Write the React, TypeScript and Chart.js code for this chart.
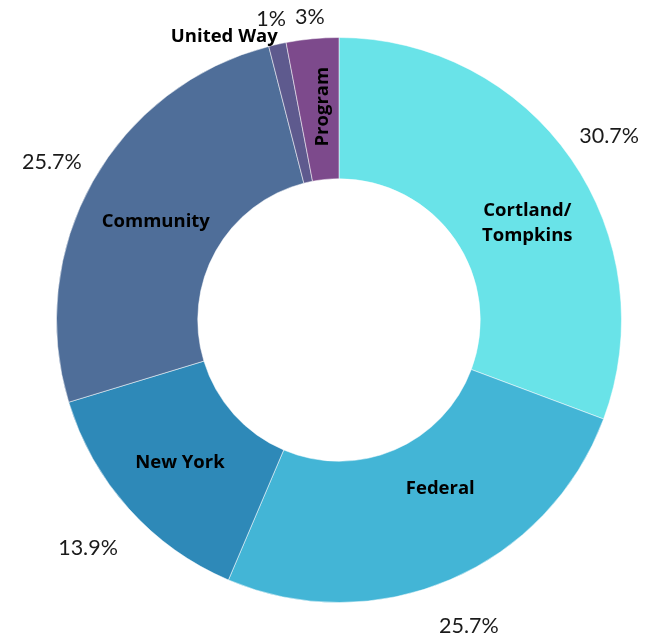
import React, { useEffect, useRef } from "react";
import { Chart, registerables } from "chart.js";

Chart.register(...registerables);

const categories = ["Cortland/\nTompkins", "Federal", "New York", "Community", "United Way", "Program"];
const values = [30.7, 25.7, 13.9, 25.7, 1, 3];
const percentLabels = ["30.7%", "25.7%", "13.9%", "25.7%", "1%", "3%"];
const colors = ["#69E3E8", "#43B5D6", "#2E89B8", "#4F6E99", "#5E5A8E", "#7D4A8C"];

const labelPlugin = {
  id: "sliceLabels",
  afterDatasetsDraw(chart: any) {
    const ctx = chart.ctx;
    const meta = chart.getDatasetMeta(0);
    meta.data.forEach((arc: any, i: number) => {
      const { x, y, startAngle, endAngle, innerRadius, outerRadius } = arc.getProps(
        ["x", "y", "startAngle", "endAngle", "innerRadius", "outerRadius"],
        true
      );
      const mid = (startAngle + endAngle) / 2;
      const cos = Math.cos(mid);
      const sin = Math.sin(mid);
      // percentage outside
      ctx.save();
      ctx.font = "400 21.5px Lato, 'Open Sans', sans-serif";
      ctx.fillStyle = "#1a1a1a";
      ctx.textAlign = "center";
      ctx.textBaseline = "middle";
      const pt = percentLabels[i];
      const w = ctx.measureText(pt).width;
      const hw = w / 2;
      const hh = 10;
      const proj = Math.abs(hw * cos) + Math.abs(hh * sin);
      const r = outerRadius + 16 + proj + (sin > 0 ? 10 : 0);
      const px = x + r * cos;
      const py = Math.max(17, y + r * sin + 3);
      ctx.fillText(pt, px, py);
      ctx.restore();

      // category label
      ctx.save();
      ctx.font = "bold 18.5px 'Open Sans', sans-serif";
      ctx.fillStyle = "#000";
      ctx.textAlign = "center";
      ctx.textBaseline = "middle";
      const lines = categories[i].split("\n");
      const frac = (endAngle - startAngle) / (2 * Math.PI);
      const ringMid = (innerRadius + outerRadius) / 2;
      if (frac < 0.02) {
        // tiny slice: label outside, to the left
        const a = mid - 0.165;
        const rr = outerRadius + 23;
        ctx.fillText(lines[0], x + rr * Math.cos(a), y + rr * Math.sin(a));
      } else if (frac < 0.05) {
        const a = mid + 0.02;
        const rr = ringMid + 2;
        ctx.translate(x + rr * Math.cos(a), y + rr * Math.sin(a));
        ctx.rotate(-Math.PI / 2);
        ctx.fillText(lines[0], 0, 0);
      } else {
        let a = mid;
        let rr = ringMid;
        if (i === 0) a = mid + 0.13;
        if (i === 1) { a = mid - 0.135; rr = ringMid - 15; }
        if (i === 2) { rr = ringMid + 2; }
        if (i === 3) { a = mid - 0.02; rr = ringMid - 4; }
        const cx = x + rr * Math.cos(a);
        const cy = y + rr * Math.sin(a);
        const lh = 25;
        lines.forEach((ln, k) => {
          ctx.fillText(ln, cx, cy + (k - (lines.length - 1) / 2) * lh);
        });
      }
      ctx.restore();
    });
  },
};

export default function App() {
  const ref = useRef<HTMLCanvasElement>(null);
  useEffect(() => {
    if (!ref.current) return;
    const chart = new Chart(ref.current, {
      type: "doughnut",
      data: {
        labels: categories,
        datasets: [
          {
            data: values,
            backgroundColor: colors,
            borderColor: "rgba(255,255,255,0.5)",
            borderWidth: 1,
          },
        ],
      },
      options: {
        animation: false,
        responsive: false,
        maintainAspectRatio: false,
        cutout: "50%",
        layout: { padding: { top: 37, bottom: 34, left: 56, right: 36 } },
        plugins: {
          legend: { display: false },
          tooltip: { enabled: false },
        },
      },
      plugins: [labelPlugin],
    });
    return () => chart.destroy();
  }, []);
  return (
    <div style={{ position: "fixed", left: 0, top: 0, width: 658, height: 637, background: "#fff" }}>
      <canvas ref={ref} width={658} height={637} style={{ width: 658, height: 637 }} />
    </div>
  );
}
